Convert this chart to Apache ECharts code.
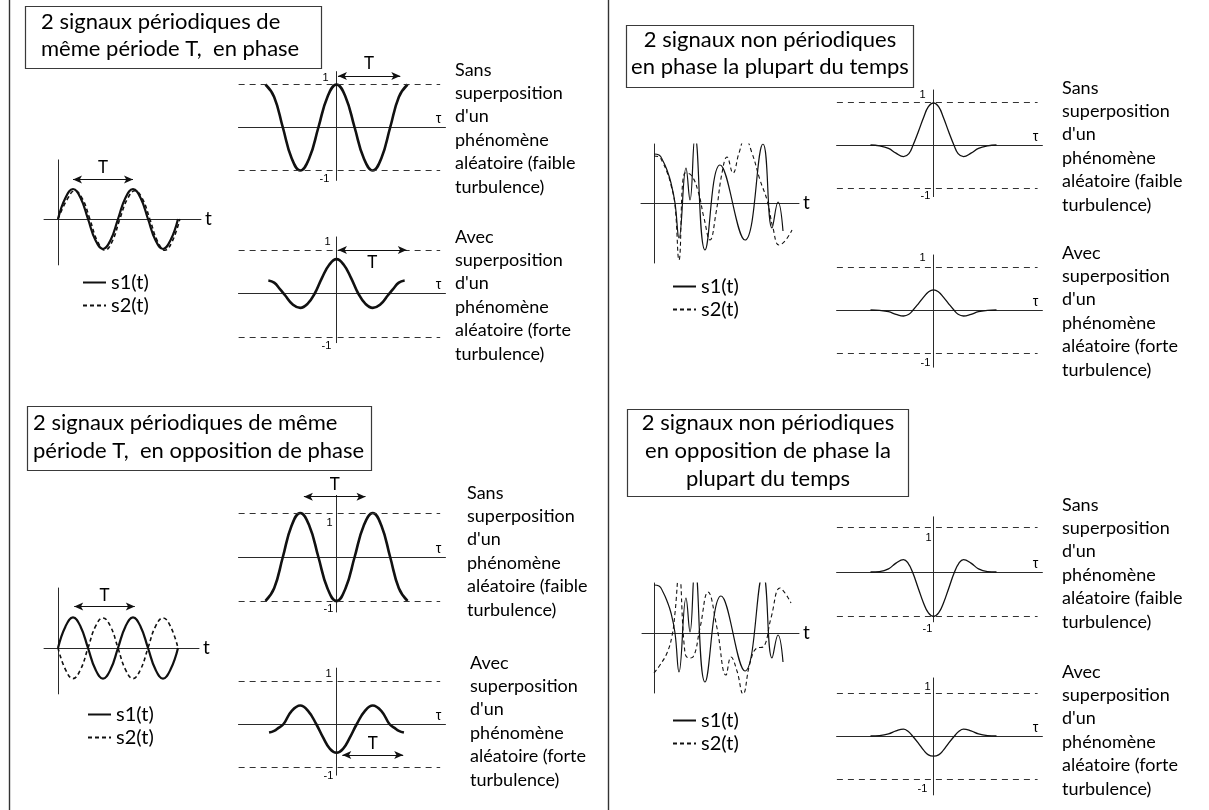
<!DOCTYPE html>
<html><head><meta charset="utf-8">
<script src="https://cdn.jsdelivr.net/npm/echarts@6/dist/echarts.min.js"></script>
<style>html,body{margin:0;padding:0;background:#fff}#c{width:1209px;height:810px}</style>
</head><body><div id="c"></div><script>
// ---------------- DATA ----------------
// Quadrant 1 : periodic signals in phase (t in periods, amplitude in units)
const q1S1 = [[0,0],[0.125,0.71],[0.25,1],[0.375,0.71],[0.5,0],[0.625,-0.71],[0.75,-1],[0.875,-0.71],[1,0],[1.125,0.71],[1.25,1],[1.375,0.71],[1.5,0],[1.625,-0.71],[1.75,-1],[1.875,-0.71],[2,0]];
const q1S2 = [[0,0],[0.155,0.66],[0.28,0.94],[0.405,0.68],[0.53,0],[0.655,-0.73],[0.78,-1.04],[0.905,-0.74],[1.03,0],[1.155,0.66],[1.28,0.94],[1.405,0.68],[1.53,0],[1.655,-0.73],[1.78,-1.04],[1.905,-0.74],[2.03,0]];
const q1CorrA = [[-0.98,1],[-0.86,0.71],[-0.74,0],[-0.62,-0.71],[-0.5,-1],[-0.375,-0.71],[-0.25,0],[-0.125,0.71],[0,1],[0.125,0.71],[0.25,0],[0.375,-0.71],[0.5,-1],[0.62,-0.71],[0.74,0],[0.86,0.71],[0.98,1]];
const q1CorrB = [[-0.94,0.30],[-0.86,0.25],[-0.78,0.1],[-0.71,-0.04],[-0.6,-0.26],[-0.5,-0.33],[-0.4,-0.24],[-0.3,0],[-0.2,0.36],[-0.1,0.66],[0,0.79],[0.1,0.66],[0.2,0.36],[0.3,0],[0.4,-0.24],[0.5,-0.33],[0.6,-0.26],[0.71,-0.04],[0.78,0.1],[0.86,0.25],[0.94,0.30]];
// Quadrant 2 : periodic signals in phase opposition
const q2S1 = [[0,0],[0.125,0.72],[0.25,1.02],[0.375,0.72],[0.5,0],[0.625,-0.72],[0.75,-1.02],[0.875,-0.72],[1,0],[1.125,0.72],[1.25,1.02],[1.375,0.72],[1.5,0],[1.625,-0.72],[1.75,-1.02],[1.875,-0.72],[2,0]];
const q2S2 = [[0,0],[0.125,-0.72],[0.25,-1.02],[0.375,-0.72],[0.5,0],[0.625,0.72],[0.75,1.0],[0.875,0.72],[1,0],[1.125,-0.72],[1.25,-1.02],[1.375,-0.72],[1.5,0],[1.625,0.72],[1.75,1.0],[1.875,0.72],[2,0]];
const q2CorrA = [[-0.98,-1],[-0.86,-0.71],[-0.74,0],[-0.62,0.71],[-0.5,1],[-0.375,0.71],[-0.25,0],[-0.125,-0.71],[0,-1],[0.125,-0.71],[0.25,0],[0.375,0.71],[0.5,1],[0.62,0.71],[0.74,0],[0.86,-0.71],[0.98,-1]];
const q2CorrB = [[-0.93,-0.2],[-0.86,-0.16],[-0.8,-0.09],[-0.73,0],[-0.62,0.3],[-0.5,0.43],[-0.39,0.3],[-0.28,0],[-0.18,-0.33],[-0.09,-0.58],[0,-0.67],[0.09,-0.58],[0.18,-0.33],[0.28,0],[0.39,0.3],[0.5,0.43],[0.62,0.3],[0.73,0],[0.8,-0.09],[0.86,-0.16],[0.93,-0.2]];
// Quadrant 3 : non periodic signals, mostly in phase (t and amplitude in arbitrary units)
const q3S1 = [[0,4.9],[0.5,4.8],[0.9,4.2],[1.3,3.3],[1.7,2.0],[2.1,0],[2.5,-3.5],[3.2,3.5],[3.6,0.3],[4.1,6.7],[5.1,-4.7],[6.6,3.8],[9.1,-3.7],[10.9,5.9],[11.8,-2.5],[12.4,0.1],[12.9,-2.8]];
const q3S2 = [[0,4.7],[0.5,4.6],[0.9,4.0],[1.3,3.1],[1.7,1.8],[2.1,-0.2],[2.5,-5.7],[3.1,3.0],[3.7,2.8],[4.4,1.2],[5.0,-1.5],[5.6,-3.7],[6.2,-1.0],[6.8,3.0],[7.3,4.6],[7.9,3.0],[8.5,5.0],[9.1,6.5],[9.8,5.0],[10.6,2.3],[11.3,0.3],[11.9,-2.5],[12.5,-4.2],[13.1,-3.8],[13.8,-2.7]];
const q3CorrA = [[-2.1,0],[-1.8,-0.02],[-1.5,-0.08],[-1.25,-0.19],[-1.0,-0.27],[-0.82,-0.2],[-0.68,0],[-0.5,0.32],[-0.33,0.64],[-0.17,0.89],[0,0.98],[0.17,0.89],[0.33,0.64],[0.5,0.32],[0.68,0],[0.82,-0.2],[1.0,-0.27],[1.25,-0.19],[1.5,-0.08],[1.8,-0.02],[2.1,0]];
const q3CorrB = [[-2.1,0],[-1.8,-0.01],[-1.5,-0.04],[-1.25,-0.1],[-1.0,-0.14],[-0.82,-0.1],[-0.68,0],[-0.5,0.15],[-0.33,0.3],[-0.17,0.42],[0,0.47],[0.17,0.42],[0.33,0.3],[0.5,0.15],[0.68,0],[0.82,-0.1],[1.0,-0.14],[1.25,-0.1],[1.5,-0.04],[1.8,-0.01],[2.1,0]];
// Quadrant 4 : non periodic signals, mostly in phase opposition
const q4S1 = [[0,4.8],[0.5,4.7],[0.9,4.1],[1.3,3.2],[1.7,2.0],[2.1,0],[2.5,-3.9],[3.2,3.5],[3.6,0.1],[4.1,6.7],[5.1,-4.9],[6.7,3.7],[9.1,-3.8],[10.9,5.9],[11.8,-2.5],[12.4,-0.2],[12.9,-2.9]];
const q4S2 = [[0,-4.0],[0.6,-3.2],[1.3,-2.0],[1.8,-0.3],[2.1,2.0],[2.5,6.1],[3.1,-2.0],[3.5,-2.5],[3.9,-2.4],[4.6,0.5],[5.4,4.1],[6.3,0.5],[7.2,-4.2],[7.7,-2.4],[8.3,-3.8],[8.9,-6.1],[9.6,-3.0],[10.3,-1.5],[10.9,-1.4],[11.7,1.5],[12.6,4.5],[13.1,4.0],[13.7,3.0]];
const q4CorrA = [[-2.1,0],[-1.8,0.01],[-1.5,0.07],[-1.25,0.2],[-1.0,0.28],[-0.85,0.2],[-0.7,0],[-0.5,-0.38],[-0.33,-0.7],[-0.17,-0.92],[0,-1.0],[0.17,-0.92],[0.33,-0.7],[0.5,-0.38],[0.7,0],[0.85,0.2],[1.0,0.28],[1.25,0.2],[1.5,0.07],[1.8,0.01],[2.1,0]];
const q4CorrB = [[-2.1,0],[-1.8,0.01],[-1.5,0.05],[-1.25,0.12],[-1.0,0.16],[-0.85,0.11],[-0.7,0],[-0.5,-0.17],[-0.33,-0.33],[-0.17,-0.44],[0,-0.47],[0.17,-0.44],[0.33,-0.33],[0.5,-0.17],[0.7,0],[0.85,0.11],[1.0,0.16],[1.25,0.12],[1.5,0.05],[1.8,0.01],[2.1,0]];

// Texts
const titleQ1 = ["2 signaux périodiques de", "même période T,  en phase"];
const titleQ2 = ["2 signaux périodiques de même", "période T,  en opposition de phase"];
const titleQ3 = ["2 signaux non périodiques", "en phase la plupart du temps"];
const titleQ4 = ["2 signaux non périodiques", "en opposition de phase la", "plupart du temps"];
const textSans = ["Sans", "superposition", "d'un", "phénomène", "aléatoire (faible", "turbulence)"];
const textAvec = ["Avec", "superposition", "d'un", "phénomène", "aléatoire (forte", "turbulence)"];
const legendNames = ["s1(t)", "s2(t)"];
const corrAxisName = "τ", sigAxisName = "t", periodLabel = "T";

// ---------------- LAYOUT (pixel placement of each panel) ----------------
const LAY = {
  q1sig: {ox:58, oy:219, sx:60, sy:30, xmin:-0.233, xmax:2.383, ymin:-1.53, ymax:1.97},
  q1a:   {ox:336.5, oy:127.5, sx:72.5, sy:43, xmin:-1.352, xmax:1.503, ymin:-1.23, ymax:1.30},
  q1b:   {ox:336.5, oy:293.5, sx:72.5, sy:43.5, xmin:-1.352, xmax:1.503, ymin:-1.13, ymax:1.30},
  q2sig: {ox:58, oy:648, sx:60, sy:30, xmin:-0.233, xmax:2.35, ymin:-1.53, ymax:2.0},
  q2a:   {ox:336.5, oy:557, sx:72.5, sy:44, xmin:-1.352, xmax:1.503, ymin:-1.25, ymax:1.4},
  q2b:   {ox:336.5, oy:724, sx:72.5, sy:43, xmin:-1.352, xmax:1.503, ymin:-1.19, ymax:1.3},
  q3sig: {ox:654, oy:203, sx:10, sy:10, xmin:-1.3, xmax:14.5, ymin:-6.0, ymax:5.9},
  q3a:   {ox:933.5, oy:145, sx:30, sy:43, xmin:-3.23, xmax:3.63, ymin:-1.2, ymax:1.28},
  q3b:   {ox:933.5, oy:310, sx:30, sy:43, xmin:-3.23, xmax:3.63, ymin:-1.33, ymax:1.28},
  q4sig: {ox:654, oy:633, sx:10, sy:10, xmin:-1.2, xmax:14.5, ymin:-6.0, ymax:5.0},
  q4a:   {ox:933.5, oy:572, sx:30, sy:44.5, xmin:-3.23, xmax:3.63, ymin:-1.12, ymax:1.24},
  q4b:   {ox:933.5, oy:736, sx:30, sy:43, xmin:-3.23, xmax:3.63, ymin:-1.37, ymax:1.35}
};
const FONT = 'Lato';
const INK = '#111';
const TXT = '#000';
const AXC = '#2a2a2a';

const grids = [], xAxes = [], yAxes = [], series = [];

function addGrid(L, name, isCorr) {
  const gi = grids.length;
  grids.push({left: L.ox + L.xmin * L.sx, top: L.oy - L.ymax * L.sy,
              width: (L.xmax - L.xmin) * L.sx, height: (L.ymax - L.ymin) * L.sy});
  const common = {type: 'value', gridIndex: gi, axisTick: {show: false}, axisLabel: {show: false},
                  splitLine: {show: false}, axisLine: {show: true, onZero: true, lineStyle: {color: AXC, width: 1}}};
  xAxes.push(Object.assign({}, common, {min: L.xmin, max: L.xmax, name: name, nameLocation: 'end',
    nameGap: isCorr ? -7 : 4,
    nameTextStyle: isCorr ? {fontFamily: 'Liberation Sans', fontSize: 14, color: TXT, align: 'center', verticalAlign: 'bottom', lineHeight: 16}
                          : {fontFamily: FONT, fontSize: 19, color: TXT, verticalAlign: 'middle', padding: [0, 0, 5, 0]}}));
  yAxes.push(Object.assign({}, common, {min: L.ymin, max: L.ymax}));
  return gi;
}

function lineSeries(gi, name, data, width, dashed) {
  const s = {type: 'line', name: name, xAxisIndex: gi, yAxisIndex: gi, data: data, smooth: 0.45,
    symbol: 'none', showSymbol: false, silent: true, animation: false, color: INK,
    itemStyle: {color: INK, opacity: 0},
    lineStyle: {color: INK, width: width, type: dashed ? dashed : 'solid'}};
  series.push(s);
  return s;
}

function arrowItem(x1, x2, y, pos, dist) {
  return [
    {coord: [x1, y], symbol: 'arrow', symbolSize: [6, 9],
     lineStyle: {type: 'solid', width: 1.1, color: INK},
     label: {show: true, formatter: periodLabel, position: pos, distance: dist || 4,
             fontFamily: FONT, fontSize: 17, color: TXT}},
    {coord: [x2, y], symbol: 'arrow', symbolSize: [6, 9]}
  ];
}

function corrPanel(key, data, width, opt) {
  const L = LAY[key];
  const gi = addGrid(L, corrAxisName, true);
  const s = lineSeries(gi, 'c' + key, data, width);
  const md = [
    [{coord: [opt.dash[0], 1]}, {coord: [opt.dash[1], 1]}],
    [{coord: [opt.dash[0], -1]}, {coord: [opt.dash[1], -1]}]
  ];
  if (opt.arrow) md.push(arrowItem(opt.arrow[0], opt.arrow[1], opt.arrow[2], opt.arrow[3], opt.arrow[4]));
  s.markLine = {silent: true, animation: false, symbol: 'none', label: {show: false},
    lineStyle: {type: [6, 5], color: '#333', width: 1}, data: md};
  s.markPoint = {silent: true, animation: false, symbol: 'circle', symbolSize: 1,
    itemStyle: {color: 'rgba(0,0,0,0)', opacity: 1},
    label: {show: true, position: 'inside', color: TXT, fontFamily: 'Liberation Sans', fontSize: 11},
    data: [
      {coord: [0, 1], value: 1, label: {formatter: '1', offset: opt.l1}},
      {coord: [0, -1], value: -1, label: {formatter: '-1', offset: opt.lm1}}
    ]};
}

function sigPanel(key, d1, d2, prefix, w1, w2, dash, arrow) {
  const L = LAY[key];
  const gi = addGrid(L, sigAxisName, false);
  const s = lineSeries(gi, prefix + legendNames[0], d1, w1);
  lineSeries(gi, prefix + legendNames[1], d2, w2, dash);
  if (arrow) {
    s.markLine = {silent: true, animation: false, symbol: 'none',
      data: [arrowItem(arrow[0], arrow[1], arrow[2], 'insideMiddleTop', 3)]};
  }
}

// Quadrant 1
sigPanel('q1sig', q1S1, q1S2, 'A ', 2.2, 1.6, [4, 3], [0.25, 1.25, 1.32]);
corrPanel('q1a', q1CorrA, 2.6, {dash: [-1.35, 1.43], arrow: [0.02, 0.88, 1.2, 'insideMiddleTop', 4], l1: [-11, -7], lm1: [-12, 8]});
corrPanel('q1b', q1CorrB, 2.6, {dash: [-1.35, 1.43], arrow: [0.02, 0.97, 1.0, 'insideMiddleBottom', 4], l1: [-9, -8], lm1: [-10, 9]});
// Quadrant 2
sigPanel('q2sig', q2S1, q2S2, 'B ', 2.2, 1.6, [4, 3], [0.27, 1.28, 1.38]);
corrPanel('q2a', q2CorrA, 2.6, {dash: [-1.35, 1.43], arrow: [-0.45, 0.4, 1.37, 'insideMiddleTop', 4], l1: [-7, 10], lm1: [-8, 8]});
corrPanel('q2b', q2CorrB, 2.6, {dash: [-1.35, 1.43], arrow: [0.08, 0.92, -0.72, 'insideMiddleTop', 3], l1: [-8, -7], lm1: [-8, 9]});
// Quadrant 3
sigPanel('q3sig', q3S1, q3S2, 'C ', 1.2, 1.1, [4, 3], null);
corrPanel('q3a', q3CorrA, 1.3, {dash: [-3.22, 3.47], l1: [-11, -7], lm1: [-8, 8]});
corrPanel('q3b', q3CorrB, 1.3, {dash: [-3.22, 3.47], l1: [-11, -9], lm1: [-8, 10]});
// Quadrant 4
sigPanel('q4sig', q4S1, q4S2, 'D ', 1.2, 1.1, [4, 3], null);
corrPanel('q4a', q4CorrA, 1.3, {dash: [-3.22, 3.47], l1: [-5, 10], lm1: [-6, 12]});
corrPanel('q4b', q4CorrB, 1.3, {dash: [-3.22, 3.47], l1: [-6, -6], lm1: [-11, 10]});

// Legends
function legendAt(prefix, left, top) {
  return {left: left, top: top, orient: 'vertical', selectedMode: false,
    data: [prefix + legendNames[0], prefix + legendNames[1]],
    formatter: n => n.slice(2), itemWidth: 23, itemHeight: 12, itemGap: 2,
    itemStyle: {opacity: 0, borderWidth: 0},
    padding: 0, textStyle: {fontFamily: FONT, fontSize: 20, color: TXT, lineHeight: 21}};
}
const legends = [legendAt('A ', 82, 272), legendAt('B ', 87, 704), legendAt('C ', 672, 276), legendAt('D ', 672, 710)];

// Annotations: dividers, boxed titles and explanatory texts
function textBlock(lines, x, y, size, lh, align) {
  return {type: 'text', x: x, y: y, silent: true,
    style: {text: lines.join('\n'), fontFamily: FONT, fontSize: size, lineHeight: lh,
            fill: TXT, align: align || 'left', verticalAlign: 'top'}};
}
function box(x, y, w, h) {
  return {type: 'rect', silent: true, shape: {x: x, y: y, width: w, height: h},
    style: {fill: 'none', stroke: '#3a3a3a', lineWidth: 1.2}};
}
const graphic = [
  {type: 'line', silent: true, shape: {x1: 9.5, y1: 0, x2: 9.5, y2: 810}, style: {stroke: '#333', lineWidth: 1.4}},
  {type: 'line', silent: true, shape: {x1: 608.5, y1: 0, x2: 608.5, y2: 810}, style: {stroke: '#333', lineWidth: 1.4}},
  box(25.5, 6.5, 296, 62), textBlock(titleQ1, 41, 8, 22, 27),
  box(27.5, 406.5, 344, 64), textBlock(titleQ2, 33, 409, 22, 28),
  box(626.5, 25.5, 287, 62), textBlock(titleQ3, 770, 26, 22, 27, 'center'),
  box(627.5, 409.5, 281, 87), textBlock(titleQ4, 768, 409, 22, 28, 'center'),
  textBlock(textSans, 455, 58, 18, 23.4), textBlock(textAvec, 455, 225, 18, 23.4),
  textBlock(textSans, 467, 481, 18, 23.4), textBlock(textAvec, 470, 651, 18, 23.4),
  textBlock(textSans, 1062, 76, 18, 23.4), textBlock(textAvec, 1062, 241, 18, 23.4),
  textBlock(textSans, 1062, 493, 18, 23.4), textBlock(textAvec, 1062, 660, 18, 23.4)
];

const chart = echarts.init(document.getElementById('c'), null, {renderer: 'canvas'});
chart.setOption({
  animation: false, backgroundColor: '#fff',
  grid: grids, xAxis: xAxes, yAxis: yAxes, series: series,
  legend: legends, graphic: graphic
});
</script></body></html>
